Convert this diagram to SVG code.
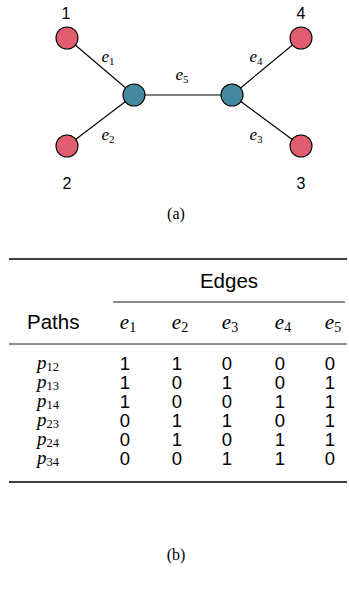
<svg xmlns="http://www.w3.org/2000/svg" width="349" height="593" viewBox="0 0 349 593">
<style>
.pk{fill:#e05e6f;stroke:#000;stroke-width:1.1}
.bl{fill:#44899f;stroke:#000;stroke-width:1.1}
.ed{stroke:#000;stroke-width:1.1;fill:none}
.nl{font-family:"Liberation Sans",Arial,sans-serif;font-size:16px;text-anchor:middle;fill:#000}
.el{font-family:"Liberation Serif","Times New Roman",serif;font-style:italic;font-size:17px;text-anchor:middle;fill:#000}
.sub{font-style:normal;font-size:11px}
.cap{font-family:"Liberation Serif","Times New Roman",serif;font-size:16px;text-anchor:middle;fill:#000}
.hd{font-family:"Liberation Sans",Arial,sans-serif;font-size:20.5px;fill:#000}
.mh{font-family:"Liberation Serif","Times New Roman",serif;font-style:italic;font-size:21px;text-anchor:middle;fill:#000}
.ms{font-style:normal;font-size:14px}
.pl{font-family:"Liberation Serif","Times New Roman",serif;font-style:italic;font-size:19px;fill:#000}
.ps{font-style:normal;font-size:12.5px}
.v{font-family:"Liberation Sans",Arial,sans-serif;font-size:18.5px;text-anchor:middle;fill:#000}
.rl{stroke:#000;fill:none}
</style>
<g id="connectors">
<line class="ed" x1="67" y1="38" x2="134" y2="95"/>
<line class="ed" x1="67" y1="146" x2="134" y2="95"/>
<line class="ed" x1="134" y1="95" x2="232" y2="95"/>
<line class="ed" x1="232" y1="95" x2="301" y2="38"/>
<line class="ed" x1="232" y1="95" x2="301" y2="146"/>
<text class="el" x="108" y="62">e<tspan class="sub" dy="3">1</tspan></text>
<text class="el" x="108" y="140">e<tspan class="sub" dy="3">2</tspan></text>
<text class="el" x="182" y="80">e<tspan class="sub" dy="3">5</tspan></text>
<text class="el" x="256" y="62">e<tspan class="sub" dy="3">4</tspan></text>
<text class="el" x="256" y="140">e<tspan class="sub" dy="3">3</tspan></text>
</g>
<g id="n1"><circle class="pk" cx="67" cy="38" r="11"/><text class="nl" x="66" y="19">1</text></g>
<g id="n2"><circle class="pk" cx="67" cy="146" r="11"/><text class="nl" x="67" y="189">2</text></g>
<g id="n3"><circle class="pk" cx="301" cy="146" r="11"/><text class="nl" x="301" y="189">3</text></g>
<g id="n4"><circle class="pk" cx="301" cy="38" r="11"/><text class="nl" x="301" y="19">4</text></g>
<g id="hubL"><circle class="bl" cx="134" cy="95" r="11"/></g>
<g id="hubR"><circle class="bl" cx="232" cy="95" r="11"/></g>
<text class="cap" x="176" y="219">(a)</text>
<g id="table">
<line class="rl" x1="9" y1="259" x2="347" y2="259" stroke-width="1.4"/>
<text class="hd" x="229" y="288" text-anchor="middle">Edges</text>
<line class="rl" x1="113" y1="302" x2="345" y2="302" stroke-width="0.9"/>
<text class="hd" x="27" y="329">Paths</text>
<text class="mh" x="128" y="329">e<tspan class="ms" dy="3">1</tspan></text>
<text class="mh" x="180" y="329">e<tspan class="ms" dy="3">2</tspan></text>
<text class="mh" x="230" y="329">e<tspan class="ms" dy="3">3</tspan></text>
<text class="mh" x="283" y="329">e<tspan class="ms" dy="3">4</tspan></text>
<text class="mh" x="333" y="329">e<tspan class="ms" dy="3">5</tspan></text>
<line class="rl" x1="9" y1="344" x2="347" y2="344" stroke-width="0.9"/>
<g id="rowlabels">
<text class="pl" x="37" y="369">p<tspan class="ps" dy="2">12</tspan></text>
<text class="pl" x="37" y="388">p<tspan class="ps" dy="2">13</tspan></text>
<text class="pl" x="37" y="407">p<tspan class="ps" dy="2">14</tspan></text>
<text class="pl" x="37" y="426">p<tspan class="ps" dy="2">23</tspan></text>
<text class="pl" x="37" y="445">p<tspan class="ps" dy="2">24</tspan></text>
<text class="pl" x="37" y="464">p<tspan class="ps" dy="2">34</tspan></text>
</g>
<g id="row12"><text class="v" x="125" y="370">1</text><text class="v" x="177" y="370">1</text><text class="v" x="227" y="370">0</text><text class="v" x="280" y="370">0</text><text class="v" x="330" y="370">0</text></g>
<g id="row13"><text class="v" x="125" y="389">1</text><text class="v" x="177" y="389">0</text><text class="v" x="227" y="389">1</text><text class="v" x="280" y="389">0</text><text class="v" x="330" y="389">1</text></g>
<g id="row14"><text class="v" x="125" y="408">1</text><text class="v" x="177" y="408">0</text><text class="v" x="227" y="408">0</text><text class="v" x="280" y="408">1</text><text class="v" x="330" y="408">1</text></g>
<g id="row23"><text class="v" x="125" y="427">0</text><text class="v" x="177" y="427">1</text><text class="v" x="227" y="427">1</text><text class="v" x="280" y="427">0</text><text class="v" x="330" y="427">1</text></g>
<g id="row24"><text class="v" x="125" y="446">0</text><text class="v" x="177" y="446">1</text><text class="v" x="227" y="446">0</text><text class="v" x="280" y="446">1</text><text class="v" x="330" y="446">1</text></g>
<g id="row34"><text class="v" x="125" y="465">0</text><text class="v" x="177" y="465">0</text><text class="v" x="227" y="465">1</text><text class="v" x="280" y="465">1</text><text class="v" x="330" y="465">0</text></g>
<line class="rl" x1="9" y1="482" x2="347" y2="482" stroke-width="1.4"/>
</g>
<text class="cap" x="176" y="560">(b)</text>
</svg>
